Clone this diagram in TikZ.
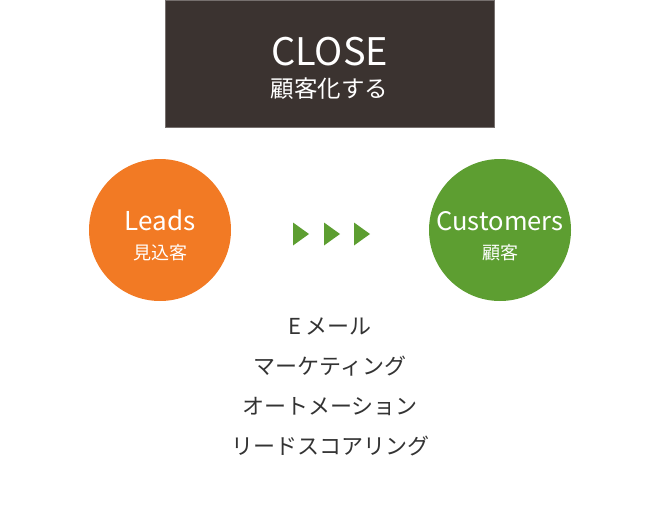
\documentclass[tikz,border=0pt]{standalone}
\usepackage{fontspec}
\setmainfont{Noto Sans CJK JP}
\usepackage{tikz}
\usetikzlibrary{positioning}
\definecolor{closebg}{RGB}{59,51,48}
\definecolor{leadorange}{RGB}{242,122,36}
\definecolor{custgreen}{RGB}{93,158,49}
\definecolor{listgray}{RGB}{51,51,51}

\begin{document}
\begin{tikzpicture}[x=1pt, y=-1pt,
    stagebox/.style={rectangle, fill=closebg, draw=closebg!70, line width=0.6pt,
                minimum width=329pt, minimum height=127pt, inner sep=0pt,
                align=center, text=white},
    stagecirc/.style={circle, minimum size=142pt, inner sep=0pt, align=center, text=white},
    toolist/.style={align=center, text=listgray, font=\fontsize{22}{40}\selectfont}]
\useasboundingbox (0,0) rectangle (660,524);
\node[stagebox] (close) at (329.5,63.5)
    {\rule{0pt}{38pt}{\fontsize{38}{38}\selectfont CLOSE}\\[11pt]{\fontsize{23.5}{28}\selectfont 顧客化する}};
\node[stagecirc, fill=leadorange] (leads) at (160,230)
    {\rule{0pt}{31pt}{\fontsize{26}{30}\selectfont Leads}\\[13pt]{\fontsize{18}{22}\selectfont 見込客}};
\node[stagecirc, fill=custgreen] (cust) at (500,230)
    {\rule{0pt}{31pt}{\fontsize{25.5}{30}\selectfont Customers}\\[13pt]{\fontsize{18}{22}\selectfont 顧客}};
% progress marks
\foreach \x in {293,324,354}
    \fill[custgreen] (\x,222.5) -- ++(16,11.5) -- ++(-16,11.5) -- cycle;
\node[toolist] (tools) at (330,387)
    {E メール\\マーケティング\\オートメーション\\リードスコアリング};
\end{tikzpicture}
\end{document}
